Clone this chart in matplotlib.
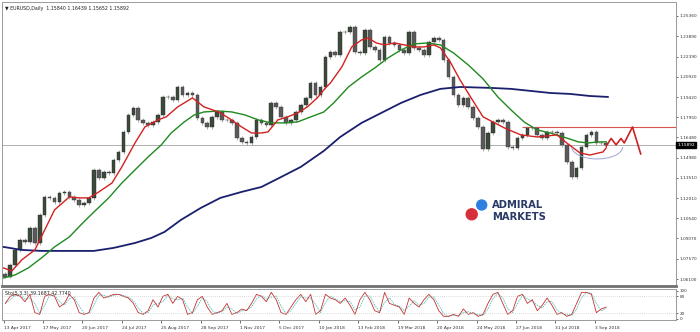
import matplotlib
matplotlib.use("Agg")
import matplotlib.pyplot as plt
from matplotlib.patches import Arc, Ellipse
import numpy as np
import pandas as pd

# 3-day candles, closes
closes = [1.0628, 1.0713, 1.0823, 1.0896, 1.0882, 1.0984, 1.0874, 1.1079, 1.1211, 1.1204,
          1.1174, 1.1240, 1.1248, 1.1211, 1.1189, 1.1152, 1.1167, 1.1204, 1.1409, 1.1350,
          1.1394, 1.1387, 1.1482, 1.1540, 1.1687, 1.1811, 1.1862, 1.1775, 1.1753, 1.1738,
          1.1760, 1.1811, 1.1943, 1.1943, 1.1921, 1.2016, 1.1958, 1.1972, 1.1958, 1.1789,
          1.1753, 1.1723, 1.1797, 1.1833, 1.1775, 1.1775, 1.1753, 1.1643, 1.1614, 1.1606,
          1.1650, 1.1775, 1.1753, 1.1738, 1.1899, 1.1870, 1.1797, 1.1753, 1.1775, 1.1833,
          1.1884, 1.1936, 1.2045, 1.1958, 1.2016, 1.2236, 1.2272, 1.2250, 1.2419, 1.2419,
          1.2455, 1.2272, 1.2265, 1.2433, 1.2309, 1.2287, 1.2214, 1.2382, 1.2338, 1.2324,
          1.2287, 1.2265, 1.2419, 1.2302, 1.2287, 1.2250, 1.2346, 1.2375, 1.2360, 1.2214,
          1.2089, 1.1958, 1.1884, 1.1936, 1.1870, 1.1789, 1.1723, 1.1562, 1.1679, 1.1760,
          1.1775, 1.1760, 1.1577, 1.1570, 1.1643, 1.1665, 1.1716, 1.1716, 1.1665, 1.1643,
          1.1687, 1.1687, 1.1679, 1.1592, 1.1467, 1.1357, 1.1423, 1.1577, 1.1665, 1.1687,
          1.1606, 1.1606, 1.1589]
first_open = 1.0645

red_ma_bars = [0, 5, 11, 19, 25, 31, 40, 46, 52, 58, 66, 72, 80, 86, 94, 99, 106, 115, 122,
               131, 137, 145, 151, 157, 161, 167, 173, 179, 185, 191, 196, 199, 206, 212, 218,
               222, 227, 232, 238, 244, 250, 256, 262, 266, 272, 278, 284, 292, 305, 315, 325,
               337, 343, 351, 357, 365, 367]
red_ma = [1.0691, 1.0669, 1.0750, 1.0823, 1.0969, 1.1116, 1.1211, 1.1204, 1.1204, 1.1248,
          1.1313, 1.1431, 1.1606, 1.1723, 1.1775, 1.1797, 1.1870, 1.1936, 1.1870, 1.1833,
          1.1789, 1.1723, 1.1679, 1.1679, 1.1687, 1.1775, 1.1797, 1.1826, 1.1870, 1.1936,
          1.2009, 1.2045, 1.2163, 1.2309, 1.2360, 1.2375, 1.2338, 1.2324, 1.2338, 1.2324,
          1.2309, 1.2309, 1.2324, 1.2302, 1.2199, 1.2067, 1.1950, 1.1797, 1.1716, 1.1665,
          1.1650, 1.1665, 1.1606, 1.1533, 1.1518, 1.1540, 1.1570]

green_ma_bars = [0, 7, 15, 23, 31, 40, 47, 55, 64, 72, 80, 88, 96, 102, 110, 116, 122, 131,
                 139, 147, 155, 163, 171, 179, 187, 195, 201, 210, 218, 226, 234, 242, 250,
                 258, 266, 274, 283, 292, 301, 309, 317, 325, 333, 341, 350, 356, 362, 367]
green_ma = [1.0618, 1.0640, 1.0691, 1.0764, 1.0845, 1.0918, 1.1006, 1.1101, 1.1204, 1.1313,
            1.1409, 1.1504, 1.1592, 1.1679, 1.1760, 1.1811, 1.1833, 1.1840, 1.1833, 1.1811,
            1.1775, 1.1753, 1.1753, 1.1760, 1.1797, 1.1833, 1.1899, 1.2016, 1.2089, 1.2155,
            1.2228, 1.2287, 1.2331, 1.2338, 1.2324, 1.2265, 1.2177, 1.2075, 1.1943, 1.1848,
            1.1760, 1.1701, 1.1679, 1.1650, 1.1614, 1.1606, 1.1614, 1.1614]

navy_ma_bars = [0, 11, 23, 39, 55, 67, 80, 90, 98, 108, 120, 132, 145, 157, 169, 181, 195,
                205, 218, 230, 242, 254, 266, 272, 278, 297, 309, 321, 333, 345, 357, 368]
navy_ma = [1.0845, 1.0823, 1.0816, 1.0816, 1.0816, 1.0838, 1.0874, 1.0911, 1.0955, 1.1043,
           1.1130, 1.1204, 1.1248, 1.1284, 1.1357, 1.1431, 1.1548, 1.1650, 1.1753, 1.1826,
           1.1899, 1.1958, 1.2002, 1.2009, 1.2016, 1.2009, 1.2002, 1.1987, 1.1972, 1.1965,
           1.1950, 1.1943]

# projected path drawn by hand on the chart
proj_bars = [367, 370, 373, 376, 378, 383, 388]
proj_price = [1.1584, 1.1639, 1.1592, 1.1639, 1.1606, 1.1723, 1.1526]
resistance = 1.1723
resistance_from = 316
last_price = 1.15892

# stochastic %K, one value per candle
stoch_k = [55, 80, 87, 80, 61, 87, 22, 16, 80, 87, 80, 42, 55, 87, 68, 22, 16, 22, 74, 94,
           74, 80, 87, 87, 80, 74, 55, 22, 16, 29, 68, 42, 80, 87, 55, 80, 68, 16, 22, 68,
           80, 42, 16, 22, 29, 55, 16, 22, 35, 29, 55, 87, 80, 61, 94, 68, 22, 16, 42, 68,
           87, 61, 87, 16, 29, 87, 74, 68, 55, 74, 48, 16, 68, 94, 68, 29, 22, 94, 55, 48,
           42, 16, 74, 55, 42, 68, 87, 68, 29, 9, 9, 16, 9, 35, 16, 22, 9, 16, 55, 87,
           94, 55, 16, 29, 80, 87, 55, 68, 29, 48, 74, 48, 16, 22, 9, 16, 55, 94, 94, 87,
           22, 35, 42]

price_ticks = [1.25360, 1.23890, 1.22390, 1.20920, 1.19420, 1.17950, 1.16480, 1.14980,
               1.13510, 1.12010, 1.10540, 1.09070, 1.07570, 1.06100]
date_labels = ["13 Apr 2017", "17 May 2017", "20 Jun 2017", "24 Jul 2017", "25 Aug 2017",
               "28 Sep 2017", "1 Nov 2017", "5 Dec 2017", "10 Jan 2018", "13 Feb 2018",
               "19 Mar 2018", "20 Apr 2018", "24 May 2018", "27 Jun 2018", "31 Jul 2018",
               "3 Sep 2018"]
date_bars = [i * 24 for i in range(len(date_labels))]

W, H = 700, 332
fig = plt.figure(figsize=(W / 100, H / 100), dpi=100)


def frac(x0, y0, x1, y1):
    return [x0 / W, 1 - y1 / H, (x1 - x0) / W, (y1 - y0) / H]


ax = fig.add_axes(frac(2, 2, 676, 286))
ax2 = fig.add_axes(frac(2, 289, 676, 320))
XMAX = 409.5

# candles
bars = np.arange(len(closes)) * 3 + 1
opens = np.array([first_open] + closes[:-1])
cl = np.array(closes)
WICK = 0.0014
up = cl >= opens
ax.vlines(bars, np.minimum(opens, cl) - WICK, np.maximum(opens, cl) + WICK,
          color="#a0a0a0", lw=0.6, zorder=2)
ax.bar(bars[up], (cl - opens)[up], bottom=opens[up], width=2.2,
       color="#3c4a3c", edgecolor="#2a2a2a", lw=0.3, zorder=3)
ax.bar(bars[~up], (opens - cl)[~up], bottom=cl[~up], width=2.2,
       color="#5a5a5a", edgecolor="#3a3a3a", lw=0.3, zorder=3)

ax.plot(navy_ma_bars, navy_ma, color="#1a1f6e", lw=1.3, zorder=4)
ax.plot(green_ma_bars, green_ma, color="#1f8a1f", lw=1.0, zorder=4)
ax.plot(red_ma_bars, red_ma, color="#d42020", lw=1.0, zorder=5)

ax.axhline(last_price, color="#b0b0b0", lw=0.7, zorder=1)
ax.hlines(resistance, resistance_from, XMAX, color="#d9534f", lw=0.8, zorder=1)
ax.plot(proj_bars, proj_price, color="#cc2222", lw=1.2, zorder=6)
ax.add_patch(Arc((361.5, 1.1577), 31, 0.0176, theta1=180, theta2=360,
                 color="#9aa6d6", lw=0.7, zorder=6))

ax.set_xlim(-1, XMAX)
ax.set_ylim(1.0559, 1.2638)
ax.yaxis.tick_right()
ax.set_yticks(price_ticks)
ax.set_yticklabels([f"{p:.5f}" for p in price_ticks])
ax.tick_params(axis="y", labelsize=3.1, length=1.5, width=0.5, pad=1, colors="#333333")
ax.set_xticks([])
for s in ax.spines.values():
    s.set_color("#9a9a9a")
    s.set_linewidth(0.7)
ax.spines["bottom"].set_color("#707070")
ax.spines["bottom"].set_linewidth(2.0)

ax.text(1.002, last_price, f"{last_price:.5f}", transform=ax.get_yaxis_transform(),
        fontsize=3.1, color="white", va="center", ha="left",
        bbox=dict(boxstyle="square,pad=0.2", fc="black", ec="black"), zorder=10)
ax.text(0.004, 0.985, "\u25bc EURUSD,Daily  1.15840 1.16439 1.15652 1.15892",
        transform=ax.transAxes, fontsize=3.4, va="top", ha="left", color="#222222")

# stochastic
k = pd.Series(stoch_k, dtype=float)
d = k.rolling(2, min_periods=1).mean()
ax2.plot(bars, d, color="#58c4c0", lw=0.6, ls=(0, (2, 1)))
ax2.plot(bars, k, color="#c83030", lw=0.6)
for lvl in (80, 20):
    ax2.axhline(lvl, color="#b5b5b5", lw=0.5, ls=(0, (1, 2)))
ax2.set_xlim(-1, XMAX)
ax2.set_ylim(-4, 106)
ax2.yaxis.tick_right()
ax2.set_yticks([100, 80, 20, 0])
ax2.set_yticklabels(["100", "80", "20", "0"])
ax2.tick_params(axis="y", labelsize=3.0, length=1.5, width=0.5, pad=1, colors="#333333")
ax2.set_xticks(date_bars)
ax2.set_xticklabels(date_labels, ha="left")
ax2.tick_params(axis="x", labelsize=3.2, length=2, width=0.5, pad=2, colors="#333333")
for s in ax2.spines.values():
    s.set_color("#9a9a9a")
    s.set_linewidth(0.7)
ax2.text(0.004, 0.93, "Sto(5,3,3) 39.1687 42.7740", transform=ax2.transAxes,
         fontsize=3.4, va="top", ha="left", color="#222222")

# logo
fig.add_artist(Ellipse((481.7 / W, 1 - 205 / H), 10 / W, 10 / H, transform=fig.transFigure,
                       color="#2f7fe0"))
fig.add_artist(Ellipse((471.7 / W, 1 - 214.3 / H), 11 / W, 11 / H, transform=fig.transFigure,
                       color="#d6303a"))
fig.text(492 / W, 1 - 205.5 / H, "ADMIRAL", fontsize=7.2, fontweight="bold",
         family=["Liberation Sans Narrow", "DejaVu Sans"], color="#2a3a66", va="center")
fig.text(492 / W, 1 - 216.5 / H, "MARKETS", fontsize=7.2, fontweight="bold",
         family=["Liberation Sans Narrow", "DejaVu Sans"], color="#2a3a66", va="center")

fig.savefig("out.png", dpi=100)
